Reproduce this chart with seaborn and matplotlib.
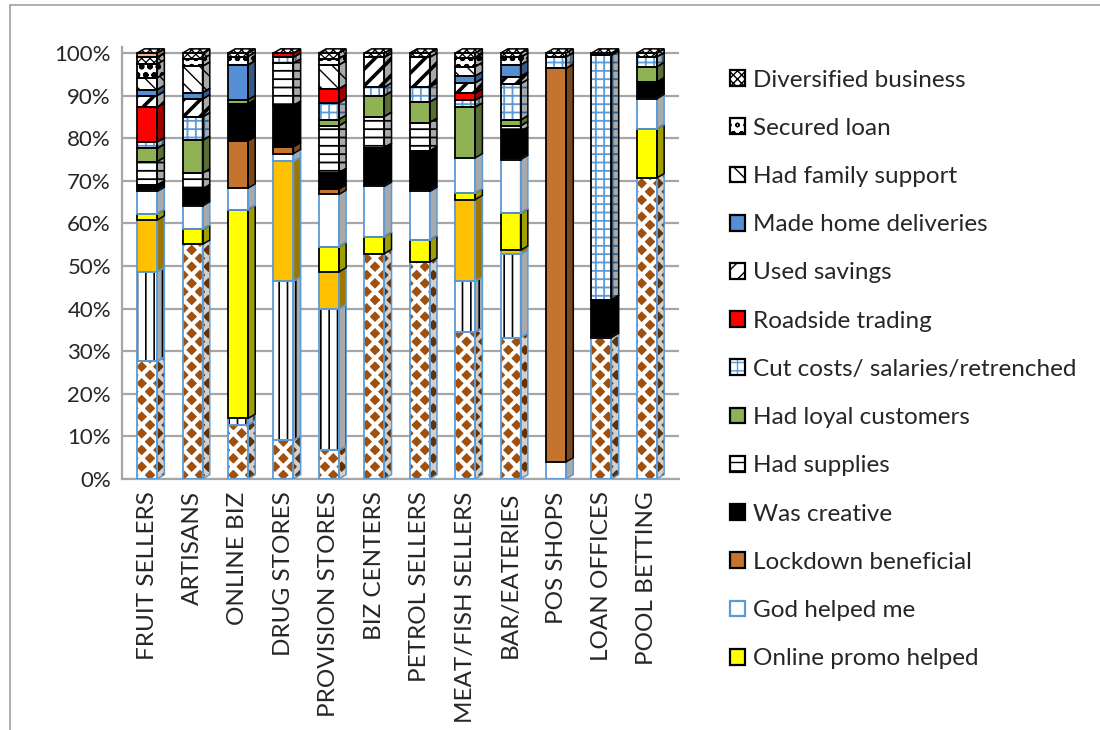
import matplotlib
matplotlib.use("Agg")
import numpy as np
import matplotlib.pyplot as plt
import matplotlib.colors as mcolors
from matplotlib.patches import Patch, Polygon, Rectangle
import seaborn as sns

categories = ["FRUIT SELLERS", "ARTISANS", "ONLINE BIZ", "DRUG STORES",
              "PROVISION STORES", "BIZ CENTERS", "PETROL SELLERS",
              "MEAT/FISH SELLERS", "BAR/EATERIES", "POS SHOPS",
              "LOAN OFFICES", "POOL BETTING"]

# Shares (%) per coping strategy, listed from the bottom of each stack upwards
base_share   = [27.6, 55.1, 12.7,  9.1,  6.7, 52.9, 50.9, 34.5, 33.2,  0.0, 33.2, 70.7]
striped_share= [21.0,  0.0,  1.5, 37.3, 33.2,  0.0,  0.0, 11.9, 19.5,  0.0,  0.0,  0.0]
amber_share  = [12.2,  0.0,  0.0, 28.2,  8.7,  0.0,  0.0, 19.2,  1.0,  0.0,  0.0,  0.0]
online_promo = [ 1.4,  3.5, 49.0,  0.0,  5.9,  4.0,  5.2,  1.5,  8.7,  0.0,  0.0, 11.5]
god_helped   = [ 5.3,  5.5,  5.1,  1.8, 12.3, 11.8, 11.4,  8.3, 12.6,  4.0,  0.0,  7.1]
lockdown     = [ 0.0,  0.0, 11.1,  1.6,  1.3,  0.0,  0.0,  0.0,  0.0, 92.4,  0.0,  0.0]
creative     = [ 1.5,  4.0,  8.7,  9.7,  3.8,  9.1,  9.5,  0.0,  6.6,  0.0,  8.9,  3.9]
supplies     = [ 5.5,  3.7,  0.0,  9.9, 11.0,  7.3,  6.7,  0.0,  1.3,  0.0,  0.0,  0.0]
loyal        = [ 3.1,  7.7,  0.9,  0.0,  1.5,  4.9,  4.8, 11.9,  1.4,  0.0,  0.0,  3.6]
cut_costs    = [ 1.5,  5.5,  0.0,  1.4,  3.9,  2.0,  3.5,  1.6,  8.5,  2.7, 57.4,  2.3]
roadside     = [ 8.2,  0.0,  0.0,  1.0,  3.3,  0.0,  0.0,  1.7,  0.0,  0.0,  0.0,  0.0]
savings      = [ 2.7,  4.2,  0.0,  0.0,  0.0,  7.0,  7.0,  2.4,  1.7,  0.0,  0.0,  0.0]
deliveries   = [ 1.4,  1.5,  8.2,  0.0,  0.0,  0.0,  0.0,  1.6,  2.7,  0.0,  0.0,  0.0]
family       = [ 2.8,  6.2,  0.0,  0.0,  5.6,  0.0,  0.0,  2.2,  0.0,  0.0,  0.0,  0.0]
secured_loan = [ 3.2,  1.7,  2.0,  0.0,  1.5,  0.0,  0.0,  2.1,  1.8,  0.0,  0.0,  0.0]
diversified  = [ 1.6,  1.4,  0.8,  0.0,  1.3,  1.0,  1.0,  1.1,  1.0,  0.9,  0.5,  0.9]
top_other    = [ 1.0,  0.0,  0.0,  0.0,  0.0,  0.0,  0.0,  0.0,  0.0,  0.0,  0.0,  0.0]

y_ticks = list(range(0, 101, 10))
y_tick_labels = [f"{t}%" for t in y_ticks]

BLUE_EDGE = "#5B9BD5"
# (label or None, values, face, hatch, hatch colour, hatch width, border colour)
series = [
    (None, base_share, "#A0500C", "xx", "white", 3.0, BLUE_EDGE),
    (None, striped_share, "white", "||", "black", 1.2, BLUE_EDGE),
    (None, amber_share, "#FFC000", None, "#FFC000", 1.0, BLUE_EDGE),
    ("Online promo helped", online_promo, "#FFFF00", None, "#FFFF00", 1.0, "black"),
    ("God helped me", god_helped, "white", None, "white", 1.0, BLUE_EDGE),
    ("Lockdown beneficial", lockdown, "#C4742F", None, "#C4742F", 1.0, "black"),
    ("Was creative", creative, "black", None, "black", 1.0, "black"),
    ("Had supplies", supplies, "white", "--", "black", 1.3, "black"),
    ("Had loyal customers", loyal, "#8FB255", None, "#8FB255", 1.0, "black"),
    ("Cut costs/ salaries/retrenched", cut_costs, "white", "++", BLUE_EDGE, 1.3, "black"),
    ("Roadside trading", roadside, "#FF0000", None, "#FF0000", 1.0, "black"),
    ("Used savings", savings, "white", "//", "black", 2.6, "black"),
    ("Made home deliveries", deliveries, "#558ED5", None, "#558ED5", 1.0, "black"),
    ("Had family support", family, "white", "\\\\", "black", 1.0, "black"),
    ("Secured loan", secured_loan, "white", "oo", "black", 1.6, "black"),
    ("Diversified business", diversified, "white", "xxxx", "black", 0.9, "black"),
    (None, top_other, "#F4B183", None, "#F4B183", 1.0, "black"),
]

sns.set_theme(style="white")
plt.rcParams["font.family"] = ["Lato", "DejaVu Sans"]
plt.rcParams["hatch.linewidth"] = 1.0

fig = plt.figure(figsize=(11, 7.3), dpi=100)
ax = fig.add_axes([0.111, 0.344, 0.506, 0.592])

x = np.arange(len(categories))
width = 0.44
dx, dy = 0.16, 1.0          # depth offset of the 3D columns


def shade(color, k=0.62):
    r, g, b = mcolors.to_rgb(color)
    return (r * k, g * k, b * k)


def styled(artist, hatch, hlw):
    if hatch and hasattr(artist, "set_hatch_linewidth"):
        artist.set_hatch_linewidth(hlw)
    return artist


# horizontal gridlines on the back wall
for t in y_ticks:
    ax.axhline(t, color="#A6A6A6", lw=1.6, zorder=0)

# index of the highest non-empty segment of every column
top_index = {}
for idx, s in enumerate(series):
    for i, v in enumerate(s[1]):
        if v > 0:
            top_index[i] = idx

cum = np.zeros(len(categories))
for idx, (label, vals, face, hatch, hcolor, hlw, edge) in enumerate(series):
    vals = np.array(vals, dtype=float)
    m = vals > 0
    if m.any():
        bars = ax.bar(x[m], vals[m], width=width, bottom=cum[m], color=face,
                      hatch=hatch, edgecolor=hcolor, linewidth=0, zorder=2)
        for b in bars:
            styled(b, hatch, hlw)
        ax.bar(x[m], vals[m], width=width, bottom=cum[m], fill=False,
               edgecolor=edge, linewidth=1.3, zorder=3)
        side_face = shade(face) if face != "white" else "#A9A9A9"
        side_hatch_col = shade(hcolor) if hcolor != "white" else "#D0D0D0"
        for i in np.where(m)[0]:
            b0, b1 = cum[i], cum[i] + vals[i]
            xr = x[i] + width / 2
            side = [(xr, b0), (xr + dx, b0 + dy), (xr + dx, b1 + dy), (xr, b1)]
            p = Polygon(side, closed=True, facecolor=side_face, hatch=hatch,
                        edgecolor=side_hatch_col, linewidth=0, zorder=2)
            styled(p, hatch, hlw)
            ax.add_patch(p)
            ax.add_patch(Polygon(side, closed=True, fill=False, edgecolor=edge,
                                 linewidth=1.1, zorder=3))
            if top_index.get(i) == idx:
                xl = x[i] - width / 2
                top = [(xl, b1), (xl + dx, b1 + dy), (xr + dx, b1 + dy), (xr, b1)]
                ax.add_patch(Polygon(top, closed=True, facecolor="white",
                                     hatch="xxxx", edgecolor="black",
                                     linewidth=0, zorder=2))
                ax.add_patch(Polygon(top, closed=True, fill=False,
                                     edgecolor="black", linewidth=1.1, zorder=3))
    cum = cum + vals

ax.set_xlim(-0.55, 11.7)
ax.set_ylim(0, 101.5)
ax.set_yticks(y_ticks)
ax.set_yticklabels(y_tick_labels, fontsize=16)
ax.set_xticks(x)
ax.set_xticklabels(categories, rotation=90, fontsize=17.5)
ax.set_xticks(np.arange(-0.5, len(categories), 1.0), minor=True)
ax.tick_params(axis="x", which="major", length=0, pad=9)
ax.tick_params(axis="x", which="minor", length=9, color="#A6A6A6", width=1.5,
               direction="out")
ax.tick_params(axis="y", length=0, pad=8)
for sp in ["top", "right"]:
    ax.spines[sp].set_visible(False)
for sp in ["left", "bottom"]:
    ax.spines[sp].set_color("#A6A6A6")
    ax.spines[sp].set_linewidth(1.6)
ax.set_xlabel("")
ax.set_ylabel("")

# legend, top strategy first
handles, labels = [], []
for label, vals, face, hatch, hcolor, hlw, edge in reversed(series):
    if label is None:
        continue
    fill = Patch(facecolor=face, hatch=hatch, edgecolor=hcolor, linewidth=0)
    border = Patch(fill=False, edgecolor=edge, linewidth=1.6)
    handles.append((fill, border))
    labels.append(label)
fig.legend(handles, labels, loc="upper left", bbox_to_anchor=(0.655, 0.918),
           frameon=False, fontsize=17.5, handlelength=0.62, handleheight=0.62,
           handletextpad=0.3, labelspacing=1.12, borderaxespad=0)

fig.add_artist(Rectangle((0.009, -0.01), 1.0, 1.003, transform=fig.transFigure,
                         fill=False, edgecolor="#A0A0A0", linewidth=1.2))

fig.savefig("out.png", dpi=100)
